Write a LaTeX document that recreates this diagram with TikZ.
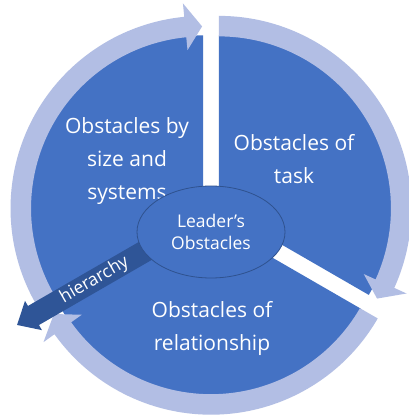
\documentclass[tikz,border=0pt]{standalone}
\usepackage{fontspec}
\setmainfont{Open Sans}
\usetikzlibrary{shapes.geometric,arrows.meta}
\definecolor{diskblue}{RGB}{68,114,196}
\definecolor{ringblue}{RGB}{178,190,228}
\definecolor{hierblue}{RGB}{47,85,151}
\definecolor{rimblue}{RGB}{47,82,143}
\begin{document}
\begin{tikzpicture}[x=1pt,y=1pt,
  sector/.style={fill=diskblue},
  ringband/.style={fill=ringblue},
  bigtext/.style={text=white, align=center, inner sep=0pt,
    font=\fontsize{21}{33}\selectfont},
  hubtext/.style={ellipse, fill=diskblue, draw=rimblue, line width=0.8pt,
    minimum width=148pt, minimum height=92pt, inner sep=0pt,
    text=white, align=center, font=\fontsize{17.5}{22}\selectfont},
  hierarrow/.style={draw=hierblue, line width=22pt, line cap=butt,
    -{Triangle[length=19pt 0 0, width=32.6pt 0 0, fill=hierblue]}}]

\fill[white] (-211pt,-206pt) rectangle (197pt,213pt);
\useasboundingbox (-211pt,-206pt) rectangle (197pt,213pt);

% exploded segments, each with its circular arrow
\begin{scope}[shift={(150:9.2pt)}]
  \fill[sector] (0,0) -- (90:173pt) arc[start angle=90, end angle=210, radius=173pt] -- cycle;
  \fill[ringband] (210:192.5pt) arc[start angle=210, end angle=95.6, radius=192.5pt]
    -- (95.6:206pt) -- (90.3:182pt) -- (95.6:159pt) -- (95.6:172pt)
    arc[start angle=95.6, end angle=210, radius=172pt] -- cycle;
\end{scope}
\begin{scope}[shift={(30:9.2pt)}]
  \fill[sector] (0,0) -- (-30:173pt) arc[start angle=-30, end angle=90, radius=173pt] -- cycle;
  \fill[ringband] (90:192.5pt) arc[start angle=90, end angle=-24.4, radius=192.5pt]
    -- (-24.4:206pt) -- (-29.7:182pt) -- (-24.4:159pt) -- (-24.4:172pt)
    arc[start angle=-24.4, end angle=90, radius=172pt] -- cycle;
\end{scope}
\begin{scope}[shift={(270:9.2pt)}]
  \fill[sector] (0,0) -- (-150:173pt) arc[start angle=-150, end angle=-30, radius=173pt] -- cycle;
  \fill[ringband] (-30:192.5pt) arc[start angle=-30, end angle=-144.4, radius=192.5pt]
    -- (-144.4:206pt) -- (-149.7:182pt) -- (-144.4:159pt) -- (-144.4:172pt)
    arc[start angle=-144.4, end angle=-30, radius=172pt] -- cycle;
\end{scope}

% segment labels
\node[bigtext] (sizesys) at (-84pt,52pt) {Obstacles by\\size and\\systems};
\node[bigtext] (task) at (83pt,54pt) {Obstacles of\\task};
\node[bigtext] (relation) at (1pt,-115pt) {Obstacles of\\relationship};

% hierarchy arrow leaving the hub
\coordinate (hub) at (0,0);
\coordinate (hiertip) at (210:224pt);
\draw[hierarrow] (hub) -- (hiertip)
  node[pos=0.6, sloped, text=white, inner sep=0pt,
       font=\fontsize{17.5}{19}\selectfont] (hierlabel) {hierarchy};

% central hub
\node[hubtext] (leader) at (0,-19pt) {Leader’s\\Obstacles};

\end{tikzpicture}
\end{document}
